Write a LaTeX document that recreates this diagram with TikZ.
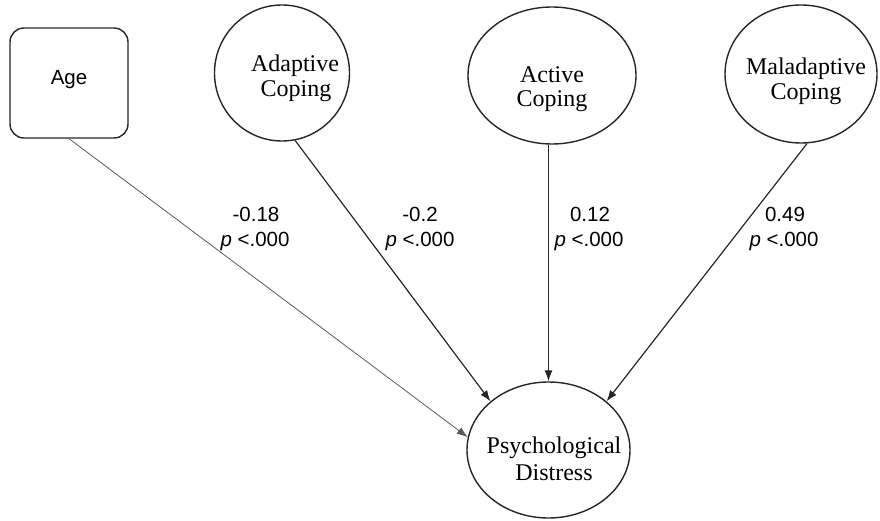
\documentclass[tikz,border=0pt]{standalone}
\usepackage{fontspec}
\setmainfont{Liberation Serif}
\setsansfont{Liberation Sans}
\usetikzlibrary{shapes.geometric,arrows.meta}
\tikzset{
  lat/.style={ellipse,draw=black!85,line width=1.4pt,inner sep=0pt},
  obs/.style={rectangle,draw=black!85,line width=1.4pt,rounded corners=14pt,inner sep=0pt,minimum width=118pt,minimum height=110pt},
  ltxt/.style={anchor=base,inner sep=0pt,font=\fontsize{24}{26}\selectfont\rmfamily},
  lab/.style={anchor=base,inner sep=0pt,font=\fontsize{20.5}{24}\selectfont\sffamily},
  path/.style={draw=black!85,line width=1.2pt,-{Latex[length=11pt,width=8pt]}},
  agepath/.style={draw=black!65,line width=0.8pt,-{Latex[length=11pt,width=8pt]}}
}
\begin{document}
\begin{tikzpicture}[x=1pt,y=-1pt]
\useasboundingbox (0,0) rectangle (880,521);
% nodes
\node[obs] (age) at (69,83) {};
\node[lab] (ageT) at (69,85) {Age};
\node[lat,minimum width=135pt,minimum height=136pt] (adapt) at (282,73) {};
\node[ltxt] (adaptT1) at (295,72) {Adaptive};
\node[ltxt] (adaptT2) at (296,97) {Coping};
\node[lat,minimum width=168pt,minimum height=137pt] (act) at (552,75.5) {};
\node[ltxt] (actT1) at (552,83) {Active};
\node[ltxt] (actT2) at (552,107) {Coping};
\node[lat,minimum width=152pt,minimum height=138pt] (mal) at (801,74) {};
\node[ltxt] (malT1) at (806,75) {Maladaptive};
\node[ltxt] (malT2) at (806,100) {Coping};
\node[lat,minimum width=163pt,minimum height=136pt] (psy) at (548.5,450) {};
\node[ltxt] (psyT1) at (554,453) {Psychological};
\node[ltxt] (psyT2) at (554,480) {Distress};
% connectors
\draw[agepath] (age.south) -- (psy.171);
\draw[path] (adapt.-79) -- (psy.140);
\draw[path] (act.south -| psy.north) -- (psy.north);
\draw[path] (mal.-85) -- (psy.40);
% labels
\node[lab] (l1a) at (256,222) {-0.18};
\node[lab] (l1b) at (255,247) {\textit{p} <.000};
\node[lab] (l2a) at (420,222) {-0.2};
\node[lab] (l2b) at (420,247) {\textit{p} <.000};
\node[lab] (l3a) at (590,222) {0.12};
\node[lab] (l3b) at (589,247) {\textit{p} <.000};
\node[lab] (l4a) at (785,222) {0.49};
\node[lab] (l4b) at (784,247) {\textit{p} <.000};
\end{tikzpicture}
\end{document}
